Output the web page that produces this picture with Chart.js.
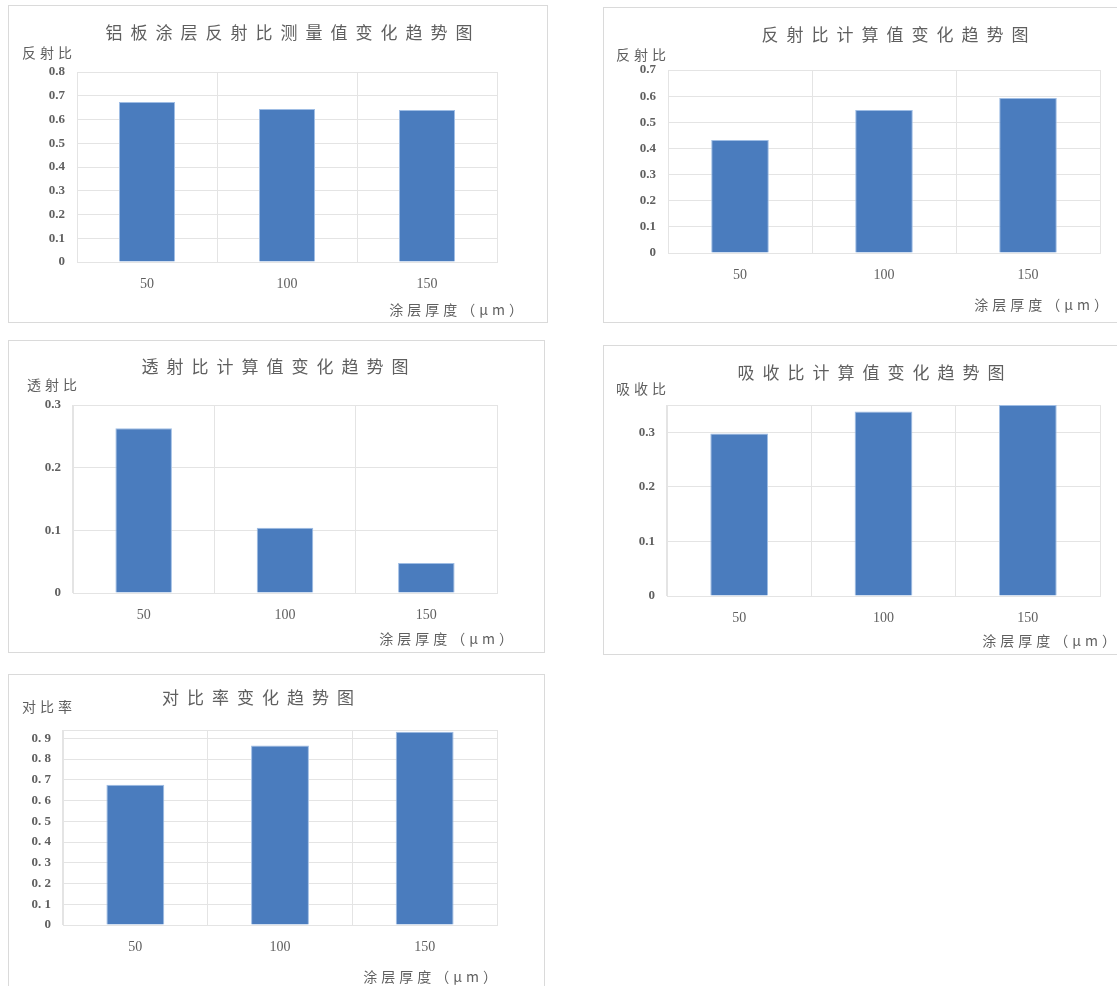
<!DOCTYPE html>
<html>
<head>
<meta charset="utf-8">
<script src="https://cdn.jsdelivr.net/npm/chart.js@4.4.1/dist/chart.umd.min.js"></script>
<style>
  body { margin: 0; background: #fff; width: 1117px; height: 986px; overflow: hidden; position: relative; }
  .panel { position: absolute; border: 1px solid #dadada; background: #fff; box-sizing: border-box; }
  canvas { display: block; }
</style>
</head>
<body>
<div class="panel" style="left:8px;top:5px;width:540px;height:318px"><canvas id="c1" width="538" height="316"></canvas></div>
<div class="panel" style="left:603px;top:7px;width:520px;height:316px"><canvas id="c2" width="518" height="314"></canvas></div>
<div class="panel" style="left:8px;top:340px;width:537px;height:313px"><canvas id="c3" width="535" height="311"></canvas></div>
<div class="panel" style="left:603px;top:345px;width:520px;height:310px"><canvas id="c4" width="518" height="308"></canvas></div>
<div class="panel" style="left:8px;top:674px;width:537px;height:320px"><canvas id="c5" width="535" height="318"></canvas></div>

<script>
// coating thickness (um)
var categories = ['50', '100', '150'];

// values
var reflectMeasured = [0.674, 0.644, 0.64];
var reflectCalc = [0.432, 0.547, 0.593];
var transmitCalc = [0.263, 0.104, 0.048];
var absorbCalc = [0.298, 0.338, 0.35];
var contrastRatio = [0.676, 0.865, 0.932];

// y tick values and labels
var ticksReflectMeasured = [0, 0.1, 0.2, 0.3, 0.4, 0.5, 0.6, 0.7, 0.8];
var labelsReflectMeasured = ['0', '0.1', '0.2', '0.3', '0.4', '0.5', '0.6', '0.7', '0.8'];
var ticksReflectCalc = [0, 0.1, 0.2, 0.3, 0.4, 0.5, 0.6, 0.7];
var labelsReflectCalc = ['0', '0.1', '0.2', '0.3', '0.4', '0.5', '0.6', '0.7'];
var ticksTransmit = [0, 0.1, 0.2, 0.3];
var labelsTransmit = ['0', '0.1', '0.2', '0.3'];
var ticksAbsorb = [0, 0.1, 0.2, 0.3];
var labelsAbsorb = ['0', '0.1', '0.2', '0.3'];
var ticksContrast = [0, 0.1, 0.2, 0.3, 0.4, 0.5, 0.6, 0.7, 0.8, 0.9];
var labelsContrast = ['0', '0. 1', '0. 2', '0. 3', '0. 4', '0. 5', '0. 6', '0. 7', '0. 8', '0. 9'];

var xTitle = '涂层厚度（μm）';

var barColor = '#4a7cbe';
var barEdge = '#9fbde4';
var gridColor = '#e4e4e4';
var textColor = '#5f5f5f';
var cjkFont = '"Noto Sans CJK SC", "Noto Sans", sans-serif';
var numFont = '"Liberation Serif", "DejaVu Serif", serif';

var Y_W = 40;   // fixed width of y tick column
var X_H = 40;   // fixed height of x tick row

// draws the title, the y unit label and the x axis title
var textPlugin = {
    id: 'panelText',
    afterDraw: function (chart, args, o) {
        var ctx = chart.ctx;
        var area = chart.chartArea;
        ctx.save();
        ctx.fillStyle = textColor;
        ctx.textBaseline = 'middle';

        ctx.font = '17px ' + cjkFont;
        ctx.letterSpacing = '8px';
        ctx.textAlign = 'center';
        ctx.fillText(o.title, o.titleX + 4, o.titleY);

        ctx.font = '14px ' + cjkFont;
        ctx.letterSpacing = '4px';
        ctx.textAlign = 'left';
        ctx.fillText(o.yLabel, o.yLabelX, o.yLabelY);

        ctx.textAlign = 'right';
        ctx.fillText(xTitle, area.right + o.xTitleDx, area.bottom + o.xTitleDy);
        ctx.restore();
    }
};

function makeChart(id, values, tickValues, tickLabels, maxVal, title, yLabel, box) {
    var canvas = document.getElementById(id);
    return new Chart(canvas.getContext('2d'), {
        type: 'bar',
        data: {
            labels: categories,
            datasets: [{
                data: values,
                backgroundColor: barColor,
                borderColor: barEdge,
                borderWidth: 1,
                categoryPercentage: 0.8,
                barPercentage: 0.5
            }]
        },
        options: {
            responsive: false,
            animation: false,
            layout: {
                padding: {
                    left: box.left - Y_W,
                    top: box.top,
                    right: canvas.width - box.right,
                    bottom: canvas.height - box.bottom - X_H
                }
            },
            plugins: {
                legend: { display: false },
                tooltip: { enabled: false },
                title: { display: false },
                panelText: {
                    title: title,
                    titleX: box.titleX,
                    titleY: box.titleY,
                    yLabel: yLabel,
                    yLabelX: box.yLabelX,
                    yLabelY: box.yLabelY,
                    xTitleDx: box.xTitleDx,
                    xTitleDy: box.xTitleDy
                }
            },
            scales: {
                x: {
                    offset: true,
                    grid: { offset: true, color: gridColor, drawTicks: false },
                    border: { color: gridColor },
                    ticks: {
                        color: textColor,
                        padding: 14,
                        font: { family: numFont, size: 14 }
                    },
                    afterFit: function (scale) { scale.height = X_H; }
                },
                y: {
                    min: 0,
                    max: maxVal,
                    grid: { color: gridColor, drawTicks: false },
                    border: { color: gridColor },
                    afterBuildTicks: function (scale) {
                        var list = tickValues.map(function (v) { return { value: v }; });
                        if (maxVal > tickValues[tickValues.length - 1] + 1e-9) {
                            list.push({ value: maxVal });
                        }
                        scale.ticks = list;
                    },
                    ticks: {
                        color: textColor,
                        padding: 12,
                        font: { family: numFont, size: 13, weight: 'bold' },
                        callback: function (v, i) {
                            return i < tickLabels.length ? tickLabels[i] : '';
                        }
                    },
                    afterFit: function (scale) { scale.width = Y_W; }
                }
            }
        },
        plugins: [textPlugin]
    });
}

// boxes are in canvas coordinates (panel origin + 1px border)
makeChart('c1', reflectMeasured, ticksReflectMeasured, labelsReflectMeasured, 0.8,
    '铝板涂层反射比测量值变化趋势图', '反射比',
    { left: 68, top: 66, right: 488, bottom: 256, titleX: 280, titleY: 27,
      yLabelX: 13, yLabelY: 47, xTitleDx: 30, xTitleDy: 48 });

makeChart('c2', reflectCalc, ticksReflectCalc, labelsReflectCalc, 0.7,
    '反射比计算值变化趋势图', '反射比',
    { left: 64, top: 62, right: 496, bottom: 245, titleX: 291, titleY: 27,
      yLabelX: 12, yLabelY: 47, xTitleDx: 12, xTitleDy: 52 });

makeChart('c3', transmitCalc, ticksTransmit, labelsTransmit, 0.3,
    '透射比计算值变化趋势图', '透射比',
    { left: 64, top: 64, right: 488, bottom: 252, titleX: 266, titleY: 26,
      yLabelX: 18, yLabelY: 44, xTitleDx: 20, xTitleDy: 46 });

makeChart('c4', absorbCalc, ticksAbsorb, labelsAbsorb, 0.35,
    '吸收比计算值变化趋势图', '吸收比',
    { left: 63, top: 59, right: 496, bottom: 250, titleX: 267, titleY: 27,
      yLabelX: 12, yLabelY: 43, xTitleDx: 20, xTitleDy: 45 });

makeChart('c5', contrastRatio, ticksContrast, labelsContrast, 0.94,
    '对比率变化趋势图', '对比率',
    { left: 54, top: 55, right: 488, bottom: 250, titleX: 249, titleY: 23,
      yLabelX: 13, yLabelY: 32, xTitleDx: 4, xTitleDy: 52 });
</script>
</body>
</html>
